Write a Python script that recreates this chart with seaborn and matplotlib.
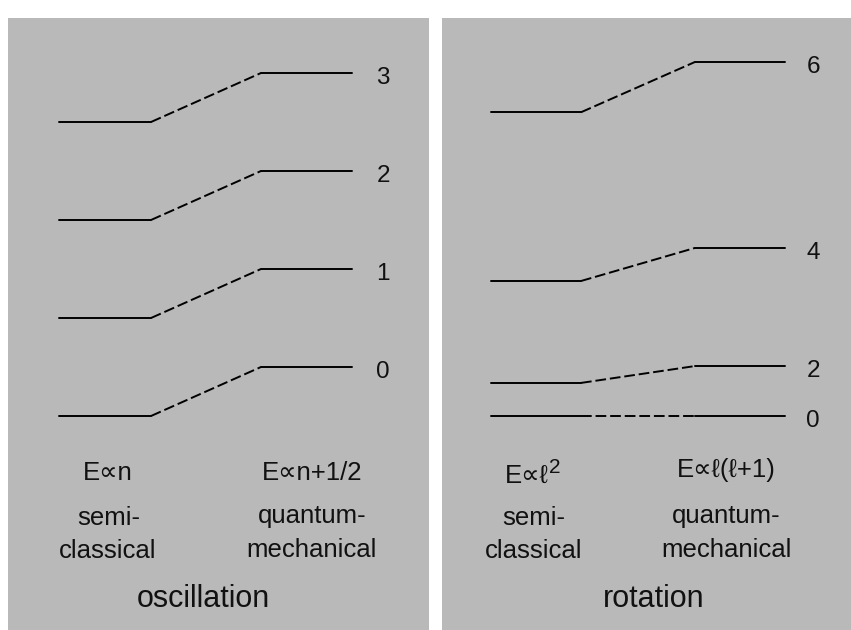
import numpy as np
import pandas as pd
import matplotlib
matplotlib.use('Agg')
import matplotlib.pyplot as plt
import seaborn as sns

# energy levels
osc_semi = [0, 1, 2, 3]            # E ~ n
osc_quant = [0.5, 1.5, 2.5, 3.5]   # E ~ n + 1/2
osc_labels = ['0', '1', '2', '3']

rot_semi = [0, 0.98, 4.0, 9.0]       # E ~ l^2
rot_quant = [0, 1.48, 4.98, 10.49]   # E ~ l(l+1)
rot_labels = ['0', '2', '4', '6']

W, H = 851, 630
GRAY = '#b9b9b9'

sns.set_theme(style='white')
plt.rcParams['font.family'] = ['Liberation Sans', 'DejaVu Sans']


def segments(semi, quant, xs):
    # xs: start semi, end semi, start quant, end quant (panel pixels)
    rows = []
    for i, (a, b) in enumerate(zip(semi, quant)):
        rows += [(xs[0], a, f'L{i}', 'level'), (xs[1], a, f'L{i}', 'level'),
                 (xs[1], a, f'K{i}', 'link'), (xs[2], b, f'K{i}', 'link'),
                 (xs[2], b, f'Q{i}', 'level'), (xs[3], b, f'Q{i}', 'level')]
    return pd.DataFrame(rows, columns=['x', 'E', 'seg', 'kind'])


def draw(ax, semi, quant, labels, xs, lab_x):
    df = segments(semi, quant, xs)
    sns.lineplot(data=df, x='x', y='E', units='seg', estimator=None, sort=False,
                 style='kind', dashes={'level': '', 'link': (5.5, 2)},
                 color='black', linewidth=1.4, legend=False, ax=ax)
    for e, lab in zip(quant, labels):
        ax.annotate(lab, xy=(lab_x, e), xytext=(0, -3.5), textcoords='offset points',
                    ha='center', va='center', fontsize=17.5, color='#111111')
    ax.set_facecolor(GRAY)
    ax.set_xticks([])
    ax.set_yticks([])
    ax.set_xlabel('')
    ax.set_ylabel('')
    for s in ax.spines.values():
        s.set_visible(False)


fig = plt.figure(figsize=(W / 100, H / 100), dpi=100)
ax1 = fig.add_axes([8 / W, 0, 421 / W, 612 / H])
ax2 = fig.add_axes([442 / W, 0, 409 / W, 612 / H])

draw(ax1, osc_semi, osc_quant, osc_labels, (51, 143, 253, 344), 375)
ax1.set_xlim(0, 421)
ax1.set_ylim((416 - 630) / 98, (416 - 18) / 98)

draw(ax2, rot_semi, rot_quant, rot_labels, (49, 139, 253, 343), 371)
ax2.set_xlim(0, 409)
ax2.set_ylim((416 - 630) / 33.75, (416 - 18) / 33.75)


def ftext(x, y, s, size=18.5, **kw):
    return fig.text(x / W, 1 - y / H, s, fontsize=size, va='baseline',
                    ha=kw.pop('ha', 'center'), color='#111111', **kw)


# oscillation panel
ftext(108, 480, 'E∝n')
ftext(312, 480, 'E∝n+1/2')
ftext(109, 525, 'semi-')
ftext(108, 558, 'classical')
ftext(312, 523, 'quantum-')
ftext(312, 557, 'mechanical')
ftext(203, 607, 'oscillation', size=22)

# rotation panel
ftext(505, 483, 'E∝ℓ', ha='left')
ftext(549, 473, '2', size=15, ha='left')
ftext(726, 477, 'E∝ℓ(ℓ+1)')
ftext(534, 525, 'semi-')
ftext(534, 558, 'classical')
ftext(726, 523, 'quantum-')
ftext(727, 557, 'mechanical')
ftext(654, 607, 'rotation', size=22)

fig.savefig('out.png', dpi=100, facecolor='white')
